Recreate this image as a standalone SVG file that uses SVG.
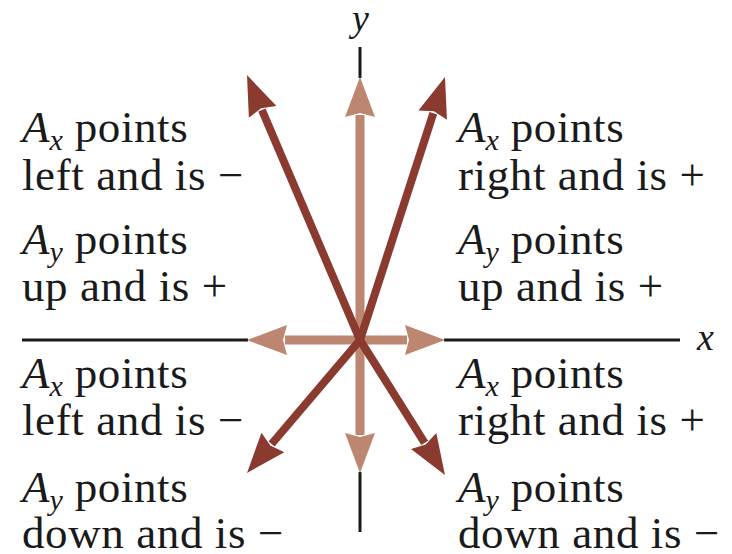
<svg xmlns="http://www.w3.org/2000/svg" width="732" height="554" viewBox="0 0 732 554">
<style>
.t{font-family:"Liberation Serif","Times New Roman",serif;font-size:45px;letter-spacing:0.6px;fill:#1a1a1a}
.i{font-style:italic;letter-spacing:0}
.s{font-style:italic;font-size:30px;letter-spacing:0}
.ax{stroke:#1a1a1a;stroke-width:3;fill:none}
.lt{stroke:#bd8670;stroke-width:9;fill:none}
.dk{stroke:#8a3a2f;stroke-width:8;fill:none}
.lbl{font-family:"Liberation Serif","Times New Roman",serif;font-style:italic;font-size:38px;fill:#1a1a1a}
</style>
<defs>
<marker id="hl" markerUnits="userSpaceOnUse" markerWidth="46" markerHeight="32" viewBox="0 -16 46 32" refX="2" refY="0" orient="auto">
<path d="M0,-15 L40,0 L0,15 L4,0 Z" fill="#bd8670"/>
</marker>
<marker id="hd" markerUnits="userSpaceOnUse" markerWidth="46" markerHeight="32" viewBox="0 -16 46 32" refX="2" refY="0" orient="auto">
<path d="M0,-15 L40,0 L0,15 L4,0 Z" fill="#8a3a2f"/>
</marker>
</defs>
<g id="axes">
<line class="ax" x1="360" y1="47" x2="360" y2="78"/>
<line class="ax" x1="360" y1="472" x2="360" y2="532"/>
<line class="ax" x1="22" y1="340" x2="248" y2="340"/>
<line class="ax" x1="444" y1="340" x2="680" y2="340"/>
<text class="lbl" x="352" y="31">y</text>
<text class="lbl" x="697" y="350">x</text>
</g>
<g id="connectors">
<line class="lt" x1="360" y1="340" x2="360" y2="115" marker-end="url(#hl)"/>
<line class="lt" x1="360" y1="340" x2="360" y2="435" marker-end="url(#hl)"/>
<line class="lt" x1="360" y1="340" x2="285" y2="340" marker-end="url(#hl)"/>
<line class="lt" x1="360" y1="340" x2="407" y2="340" marker-end="url(#hl)"/>
<line class="dk" x1="360" y1="340" x2="261.9" y2="110" marker-end="url(#hd)"/>
<line class="dk" x1="360" y1="340" x2="433.3" y2="113.2" marker-end="url(#hd)"/>
<line class="dk" x1="360" y1="340" x2="271.6" y2="444" marker-end="url(#hd)"/>
<line class="dk" x1="360" y1="340" x2="424.7" y2="442.8" marker-end="url(#hd)"/>
</g>
<g id="q2">
<text class="t" x="22" y="142"><tspan class="i">A</tspan><tspan class="s" dy="8">x</tspan><tspan dy="-8"> points</tspan></text>
<text class="t" x="22" y="190">left and is −</text>
<text class="t" x="22" y="254"><tspan class="i">A</tspan><tspan class="s" dy="8">y</tspan><tspan dy="-8"> points</tspan></text>
<text class="t" x="22" y="301">up and is +</text>
</g>
<g id="q1">
<text class="t" x="458" y="142"><tspan class="i">A</tspan><tspan class="s" dy="8">x</tspan><tspan dy="-8"> points</tspan></text>
<text class="t" x="458" y="190">right and is +</text>
<text class="t" x="458" y="254"><tspan class="i">A</tspan><tspan class="s" dy="8">y</tspan><tspan dy="-8"> points</tspan></text>
<text class="t" x="458" y="301">up and is +</text>
</g>
<g id="q3">
<text class="t" x="22" y="388"><tspan class="i">A</tspan><tspan class="s" dy="8">x</tspan><tspan dy="-8"> points</tspan></text>
<text class="t" x="22" y="435">left and is −</text>
<text class="t" x="22" y="502"><tspan class="i">A</tspan><tspan class="s" dy="8">y</tspan><tspan dy="-8"> points</tspan></text>
<text class="t" x="22" y="548">down and is −</text>
</g>
<g id="q4">
<text class="t" x="458" y="388"><tspan class="i">A</tspan><tspan class="s" dy="8">x</tspan><tspan dy="-8"> points</tspan></text>
<text class="t" x="458" y="435">right and is +</text>
<text class="t" x="458" y="502"><tspan class="i">A</tspan><tspan class="s" dy="8">y</tspan><tspan dy="-8"> points</tspan></text>
<text class="t" x="458" y="548">down and is −</text>
</g>
</svg>
